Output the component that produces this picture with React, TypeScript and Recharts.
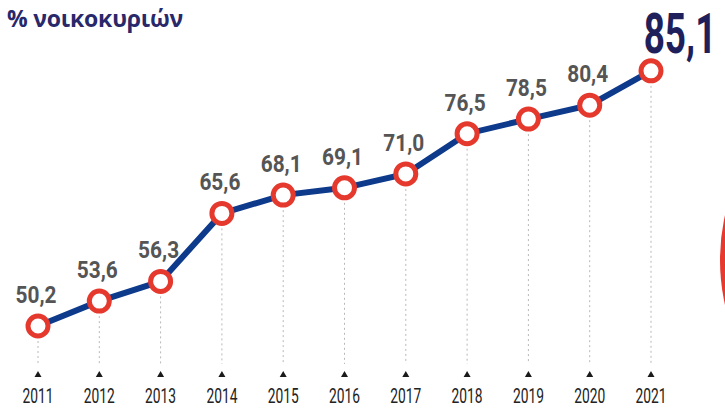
import React from 'react';
import { LineChart, Line, XAxis, YAxis, LabelList, ReferenceLine } from 'recharts';

const years = ['2011', '2012', '2013', '2014', '2015', '2016', '2017', '2018', '2019', '2020', '2021'];
const values = [50.2, 53.6, 56.3, 65.6, 68.1, 69.1, 71.0, 76.5, 78.5, 80.4, 85.1];
const title = '% νοικοκυριών';
const yDomain: [number, number] = [45, 90];

const data = years.map((year, i) => ({ year, value: values[i] }));
const fmt = (v: number) => v.toFixed(1).replace('.', ',');

const FONT = "Roboto, 'Liberation Sans', sans-serif";

const Tick = (props: any) => {
  const { x, y, payload } = props;
  return (
    <g>
      <path d={`M ${x - 3.5} ${y + 13} L ${x} ${y + 7} L ${x + 3.5} ${y + 13} Z`} fill="#1a1a1a" />
      <text
        x={x}
        y={y + 39}
        textAnchor="middle"
        fontFamily={FONT}
        fontSize={20}
        fill="#222"
        textLength={31}
        lengthAdjust="spacingAndGlyphs"
      >
        {payload.value}
      </text>
    </g>
  );
};

const ValueLabel = (props: any) => {
  const { x, y, value, index } = props;
  const last = index === values.length - 1;
  if (last) {
    return (
      <g transform={`translate(${x + 29}, ${y - 18}) scale(0.66, 1)`}>
        <text
          x={0}
          y={0}
          textAnchor="middle"
          fontFamily={FONT}
          fontWeight={700}
          fontSize={56}
          fill="#1f1f5c"
        >
          {fmt(value)}
        </text>
      </g>
    );
  }
  return (
    <text
      x={x - 2}
      y={y - 23}
      textAnchor="middle"
      fontFamily={FONT}
      fontWeight={700}
      fontSize={23}
      fill="#555"
      textLength={41}
      lengthAdjust="spacingAndGlyphs"
    >
      {fmt(value)}
    </text>
  );
};

export default function App() {
  return (
    <div style={{ position: 'absolute', left: 0, top: 0, width: 725, height: 409, overflow: 'hidden', background: '#fff' }}>
      <div
        style={{
          position: 'absolute',
          left: 720,
          top: 55,
          width: 410,
          height: 410,
          borderRadius: '50%',
          background: '#e8392f',
        }}
      />
      <div
        style={{
          position: 'absolute',
          left: 7,
          top: 2,
          fontFamily: "'Open Sans', 'Noto Sans', sans-serif",
          fontWeight: 700,
          fontSize: 23,
          color: '#28286a',
          whiteSpace: 'nowrap',
          letterSpacing: -0.2,
        }}
      >
        {title}
      </div>
      <div style={{ position: 'absolute', left: 0, top: 0 }}>
        <LineChart width={725} height={409} data={data} margin={{ top: 35, right: 74, bottom: 0, left: 38 }}>
          <XAxis
            dataKey="year"
            axisLine={false}
            tickLine={false}
            tickSize={0}
            tickMargin={0}
            height={45}
            interval={0}
            tick={<Tick />}
          />
          <YAxis hide domain={yDomain} allowDataOverflow />
          {data.map((d) => (
            <ReferenceLine
              key={d.year}
              segment={[
                { x: d.year, y: d.value },
                { x: d.year, y: yDomain[0] },
              ]}
              stroke="#b8b8b8"
              strokeWidth={1}
              strokeDasharray="2 3"
            />
          ))}
          <Line
            type="linear"
            dataKey="value"
            stroke="#0e3a8c"
            strokeWidth={6}
            isAnimationActive={false}
            dot={{ r: 10, stroke: '#e6392e', strokeWidth: 5, fill: '#fff' }}
            activeDot={false}
          >
            <LabelList dataKey="value" content={<ValueLabel />} />
          </Line>
        </LineChart>
      </div>
    </div>
  );
}
